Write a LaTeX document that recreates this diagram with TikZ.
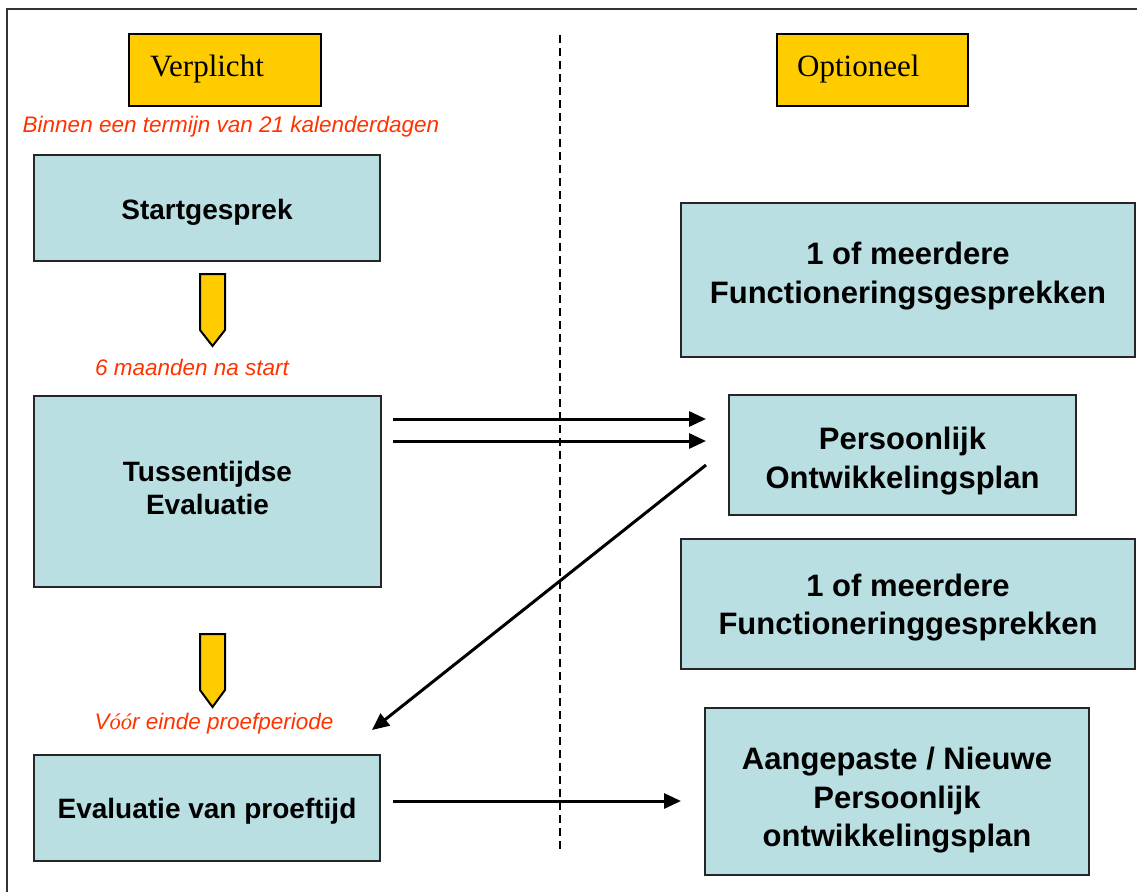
\documentclass[tikz,border=0pt]{standalone}
\usepackage{fontspec}
\setmainfont{Liberation Sans}
\newfontfamily\timesf{Liberation Serif}
\usetikzlibrary{arrows.meta}
\definecolor{boxblue}{HTML}{B9DFE2}
\definecolor{gold}{HTML}{FFCC00}
\definecolor{redtxt}{HTML}{FF3300}
\begin{document}
\begin{tikzpicture}[x=1pt,y=-1pt,
  box/.style={draw=black!85, line width=2pt, fill=boxblue, inner sep=0pt},
  lbl/.style={align=center, inner sep=0pt},
  smallbold/.style={font=\bfseries\fontsize{28}{33}\selectfont},
  bigbold/.style={font=\bfseries\fontsize{31}{38.5}\selectfont},
  tag/.style={draw=black, line width=2pt, fill=gold, inner sep=0pt},
  note/.style={text=redtxt, font=\itshape\fontsize{22.5}{26}\selectfont, inner sep=0pt},
  downarrow/.style={draw=black, line width=2pt, fill=gold, line join=miter},
  arr/.style={draw=black, line width=3pt, -{Triangle[length=17pt,width=15pt]}}
]
\useasboundingbox[fill=white] (0,0) rectangle (1137,892);
% frame
\draw[line width=1.5pt, black!80] (7,892) -- (7,9) -- (1137,9);
% dashed divider
\draw[line width=1.5pt, dash pattern=on 8pt off 5pt] (560,35) -- (560,852);

% headers
\node[tag, minimum width=192pt, minimum height=72pt] (verp) at (225,70) {};
\node[anchor=west, inner sep=0pt, font=\timesf\fontsize{31}{36}\selectfont] (verpt) at (150,69) {Verplicht};
\node[tag, minimum width=191pt, minimum height=72pt] (opt) at (872.5,70) {};
\node[anchor=west, inner sep=0pt, font=\timesf\fontsize{31}{36}\selectfont] (optt) at (797,69) {Optioneel};

% notes
\node[note] (n1) at (231,127) {Binnen een termijn van 21 kalenderdagen};
\node[note] (n2) at (192,367) {6 maanden na start};
\node[note] (n3) at (214,724) {V{\timesf\itshape óó}r einde proefperiode};

% left boxes
\node[box, minimum width=346pt, minimum height=106pt] (start) at (207,208) {};
\node[lbl, smallbold] (startt) at (207,212) {Startgesprek};
\node[box, minimum width=347pt, minimum height=191pt] (tuss) at (207.5,491.5) {};
\node[lbl, smallbold] (tusst) at (207.5,488) {Tussentijdse\\Evaluatie};
\node[box, minimum width=346pt, minimum height=106pt] (eval) at (207,808) {};
\node[lbl, smallbold] (evalt) at (207,811) {Evaluatie van proeftijd};

% right boxes
\node[box, minimum width=454pt, minimum height=154pt] (f1) at (908,280) {};
\node[lbl, bigbold] (f1t) at (908,276) {1 of meerdere\\Functioneringsgesprekken};
\node[box, minimum width=347pt, minimum height=120pt] (pol) at (902.5,455) {};
\node[lbl, bigbold] (polt) at (902.5,461) {Persoonlijk\\Ontwikkelingsplan};
\node[box, minimum width=454pt, minimum height=130pt] (f2) at (908,604) {};
\node[lbl, bigbold] (f2t) at (908,607.5) {1 of meerdere\\Functioneringgesprekken};
\node[box, minimum width=384pt, minimum height=167pt] (aang) at (897,791.5) {};
\node[lbl, bigbold] (aangt) at (897,800.5) {Aangepaste / Nieuwe\\Persoonlijk\\ontwikkelingsplan};

% yellow down arrows
\path[downarrow] (200,274) -- (225,274) -- (225,330) -- (212.5,346) -- (200,330) -- cycle;
\path[downarrow] (200,634) -- (225,634) -- (225,690) -- (212.5,707) -- (200,690) -- cycle;

% connectors
\coordinate (a1s) at (393,419);
\coordinate (a1e) at (706,419);
\coordinate (a2s) at (393,441);
\coordinate (a2e) at (706,441);
\coordinate (a3s) at (706,465);
\coordinate (a3e) at (372,730);
\coordinate (a4s) at (393,801);
\coordinate (a4e) at (681,801);
\draw[arr] (a1s) -- (a1e);
\draw[arr] (a2s) -- (a2e);
\draw[arr] (a3s) -- (a3e);
\draw[arr] (a4s) -- (a4e);
\end{tikzpicture}
\end{document}
